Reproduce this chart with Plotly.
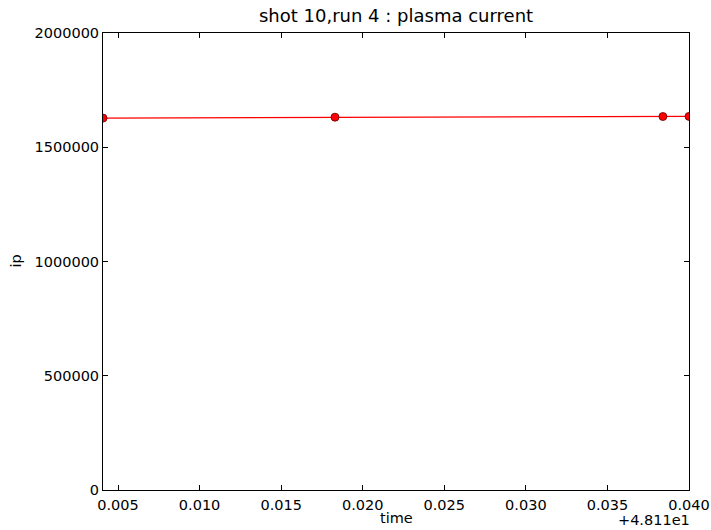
import plotly.graph_objects as go

# Plasma current samples for shot 10, run 4
time_s = [48.11408, 48.1283, 48.1484, 48.1500]
ip_amp = [1627500, 1631500, 1634500, 1635000]

time_offset = 48.11
x_tick_offsets = [0.005, 0.010, 0.015, 0.020, 0.025, 0.030, 0.035, 0.040]
x_tick_labels = ["0.005", "0.010", "0.015", "0.020", "0.025", "0.030", "0.035", "0.040"]
y_tick_vals = [0, 500000, 1000000, 1500000, 2000000]
y_tick_labels = ["0", "500000", "1000000", "1500000", "2000000"]

x_rel = [t - time_offset for t in time_s]

font = dict(family="DejaVu Sans", size=14.5, color="black")

fig = go.Figure()
fig.add_trace(go.Scatter(
    x=x_rel, y=ip_amp, mode="lines+markers",
    line=dict(color="red", width=1.2),
    marker=dict(color="red", size=8, line=dict(color="#600000", width=0.8)),
    showlegend=False,
))

axis_common = dict(
    showgrid=False, zeroline=False, showline=True, linecolor="black", linewidth=1,
    mirror="ticks", ticks="inside", ticklen=5, tickcolor="black", tickfont=font,
    automargin=False,
)

fig.update_layout(
    width=711, height=530,
    margin=dict(l=103, r=22, t=33, b=40),
    paper_bgcolor="white", plot_bgcolor="white",
    font=font,
    title=dict(text="shot 10,run 4 : plasma current", x=0.557, xanchor="center",
               y=0.97, yanchor="middle", font=dict(family="DejaVu Sans", size=18)),
    xaxis=dict(range=[min(x_rel), max(x_rel)], tickvals=x_tick_offsets,
               ticktext=x_tick_labels, ticklabelstandoff=2, **axis_common),
    yaxis=dict(range=[0, 2000000], tickvals=y_tick_vals, ticktext=y_tick_labels,
               **axis_common),
)

fig.add_annotation(text="time", xref="paper", yref="paper", x=0.5, y=0,
                   yshift=-28, showarrow=False, yanchor="middle", borderpad=0,
                   font=font)
fig.add_annotation(text="ip", xref="paper", yref="paper", x=0, y=0.5,
                   xshift=-88, showarrow=False, textangle=-90,
                   xanchor="center", yanchor="middle", font=font)
fig.add_annotation(text="+4.811e1", xref="paper", yref="paper", x=1, y=0,
                   yshift=-30, xshift=2, xanchor="right", yanchor="middle",
                   borderpad=0, showarrow=False, font=font)

fig.write_html("out.html")
